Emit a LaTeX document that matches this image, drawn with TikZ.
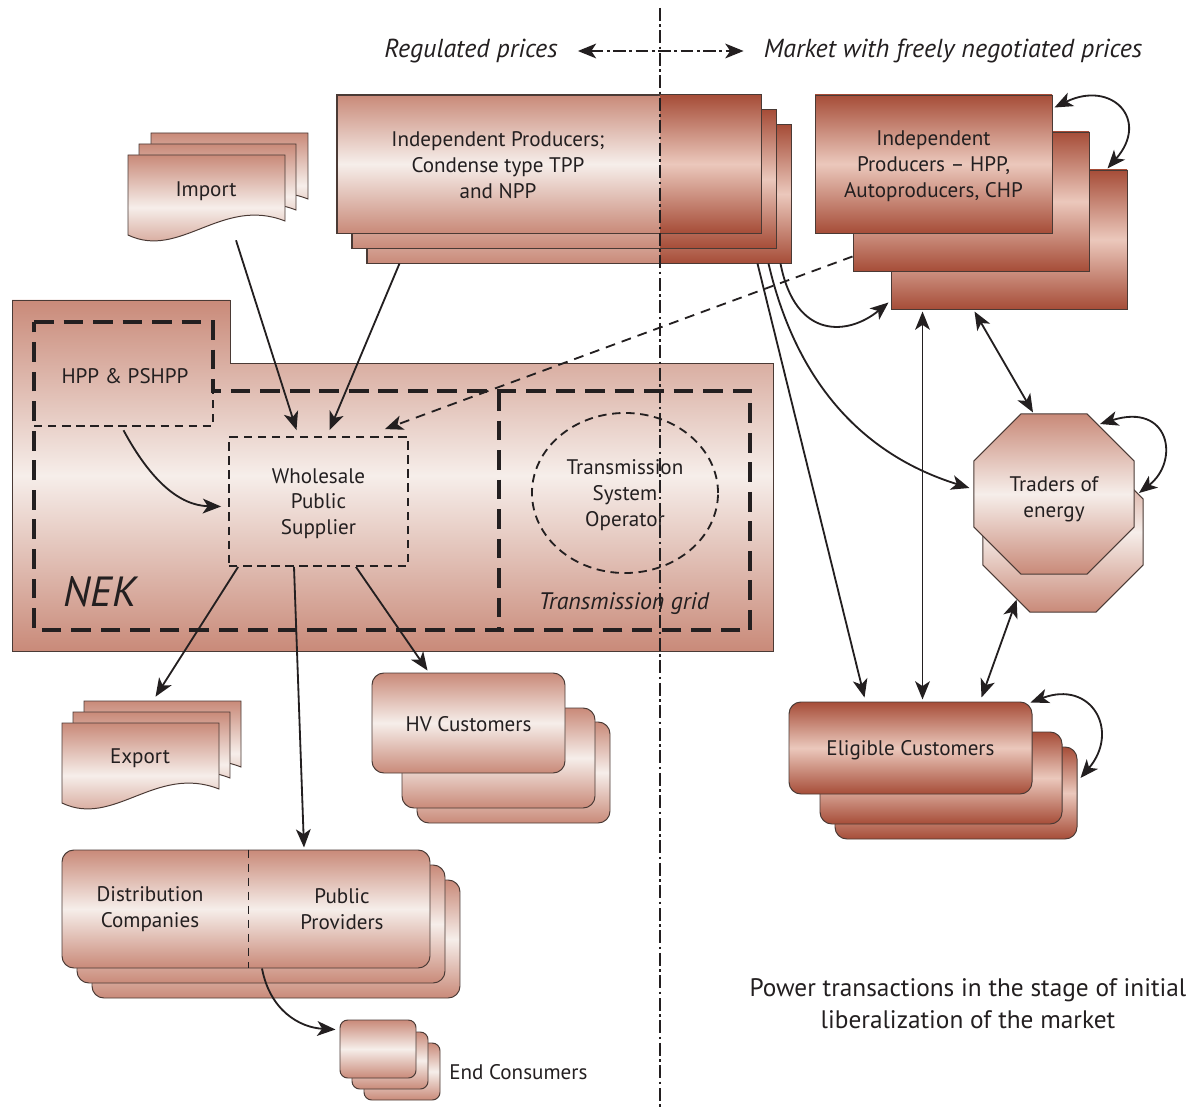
\documentclass[tikz,border=0pt]{standalone}
\usepackage{fontspec}
\setmainfont{PT Sans}
\usepackage{tikz}
\usetikzlibrary{arrows.meta, positioning, fit, calc, shapes.geometric}
\definecolor{nekedge}{HTML}{C98A79}
\definecolor{nekmid}{HTML}{F6EEEA}
\definecolor{mktedge}{HTML}{A64D38}
\definecolor{mktmid}{HTML}{EBC8BC}
\definecolor{boxline}{HTML}{4A3A35}
\definecolor{ink}{HTML}{231F20}

% one sheet of a document stack (top left corner given)
\newcommand{\docpage}[2]{%
  \path[lshade, shift={(#1,#2)}] (0,0) -- (157,0) -- (157,66) .. controls (94,41) and (52,105) .. (0,80) -- cycle;}

\begin{document}
\begin{tikzpicture}[
  x=0.025cm, y=-0.025cm,
  lfill/.style={top color=nekedge, bottom color=nekedge, middle color=nekmid},
  dfill/.style={top color=mktedge, bottom color=mktedge, middle color=mktmid},
  edge/.style={draw=boxline, line width=0.7pt},
  lshade/.style={edge, lfill},
  box/.style={edge, inner sep=0pt},
  lbox/.style={box, lfill},
  dbox/.style={box, dfill},
  txt/.style={text=ink, align=center, inner sep=0pt, font=\fontsize{15}{18.3}\selectfont},
  tip/.tip={Stealth[length=13pt, width=10.5pt, inset=3.5pt]},
  arr/.style={-tip, line width=1.3pt, ink},
  darr/.style={tip-tip, line width=1.3pt, ink},
  thinds/.style={draw=ink, line width=1.3pt, dash pattern=on 6pt off 4pt},
  thickds/.style={draw=ink, line width=3.5pt, dash pattern=on 14pt off 7pt},
  divide/.style={ink, line width=1pt, dash pattern=on 9pt off 2.5pt on 2pt off 2.5pt},
  hdr/.style={text=ink, inner sep=0pt, font=\itshape\fontsize{18.5}{22}\selectfont}
]
\useasboundingbox (0,0) rectangle (1199,1110);

% independent producers (regulated / market part)
\node[lbox, fit={(367,125)(791,263)}] (ip3) {};
\shade[dfill] (660,125) rectangle (791,263);
\draw[edge] (ip3.north west) rectangle (ip3.south east);
\node[lbox, fit={(352,110)(776,248)}] (ip2) {};
\shade[dfill] (660,110) rectangle (776,248);
\draw[edge] (ip2.north west) rectangle (ip2.south east);
\node[lbox, fit={(337,95)(761,233)}] (ip1) {};
\shade[dfill] (660,95) rectangle (761,233);
\draw[edge] (ip1.north west) rectangle (ip1.south east);
\node[txt] (iptext) at (498,165) {Independent Producers;\\Condense type TPP\\and NPP};

\node[dbox, fit={(891,170)(1127,309)}] (rp3) {};
\node[dbox, fit={(853,132)(1089,271)}] (rp2) {};
\node[dbox, fit={(815,95)(1052,233)}] (rp1) {};
\node[txt] (rptext) at ($(rp1.center)+(0,2)$) {Independent\\Producers -- HPP,\\Autoproducers, CHP};

% import
\docpage{151}{133}
\docpage{139}{144}
\docpage{128}{155}
\node[fit={(128,155)(285,230)}, inner sep=0pt] (imp) {};
\node[txt] (imptext) at (206,191) {Import};

% NEK
\path[lshade] (12,300) -- (230,300) -- (230,363) -- (773,363) -- (773,651) -- (12,651) -- cycle;
\draw[thickds] (34,322) -- (213,322) -- (213,391) -- (750,391) -- (750,630) -- (34,630) -- cycle;
\draw[thickds] (499,391) -- (499,630);
\draw[thinds] (34,426) -- (213,426) -- (213,391);
\node[fit={(34,322)(213,426)}, inner sep=0pt] (hpp) {};
\node[txt] (hpptext) at (125,376) {HPP \& PSHPP};
\node[thinds, fit={(229,437)(408,566)}, inner sep=0pt] (wps) {};
\node[txt] (wpstext) at ($(wps.center)+(0,2)$) {Wholesale\\Public\\Supplier};
\node[thinds, ellipse, minimum width=4.65cm, minimum height=4cm, inner sep=0pt] (tso) at (625,493) {};
\node[txt] (tsotext) at (625,495) {Transmission\\System\\Operator};
\node[txt, font=\itshape\fontsize{17}{20}\selectfont] (grid) at (624,604) {Transmission grid};
\node[txt, font=\itshape\fontsize{30}{30}\selectfont] (nek) at (100,592) {NEK};

% traders
\node[lbox, regular polygon, regular polygon sides=8, minimum size=4.33cm] (tr2) at (1063,532) {};
\node[lbox, regular polygon, regular polygon sides=8, minimum size=4.33cm] (tr1) at (1054,494) {};
\node[txt] (trtext) at (1054,499) {Traders of\\energy};

% export
\docpage{84}{701}
\docpage{73}{712}
\docpage{62}{723}
\node[fit={(62,723)(219,791)}, inner sep=0pt] (exp1) {};
\node[txt] (exptext) at (140,758) {Export};

% customers
\node[lbox, rounded corners=8.5pt, fit={(417,722)(610,823)}] (hv3) {};
\node[lbox, rounded corners=8.5pt, fit={(402,708)(595,808)}] (hv2) {};
\node[lbox, rounded corners=8.5pt, fit={(372,673)(565,773)}] (hv1) {};
\node[txt] (hvtext) at ($(hv1.center)+(0,1)$) {HV Customers};

\node[lbox, rounded corners=8.5pt, fit={(92,880)(460,998)}] (dist3) {};
\node[lbox, rounded corners=8.5pt, fit={(77,865)(445,983)}] (dist2) {};
\node[lbox, rounded corners=8.5pt, fit={(62,850)(430,968)}] (dist1) {};
\draw[thinds] ($(dist1.north west)+(187,0)$) -- ($(dist1.south west)+(187,0)$);
\node[txt] (dco) at (150,909) {Distribution\\Companies};
\node[txt] (ppr) at (342,909) {Public\\Providers};

\node[lbox, rounded corners=5.5pt, fit={(364,1043)(440,1100)}] (end3) {};
\node[lbox, rounded corners=5.5pt, fit={(352,1032)(428,1089)}] (end2) {};
\node[lbox, rounded corners=5.5pt, fit={(340,1020)(416,1078)}] (end1) {};
\node[txt, anchor=west] (endl) at (449,1072) {End Consumers};

\node[dbox, rounded corners=8.5pt, fit={(835,747)(1077,839)}] (el3) {};
\node[dbox, rounded corners=8.5pt, fit={(820,732)(1062,824)}] (el2) {};
\node[dbox, rounded corners=8.5pt, fit={(789,702)(1032,794)}] (el1) {};
\node[txt] (eltext) at ($(el1.center)+(0,2)$) {Eligible Customers};

% flows
\draw[arr] ($(imp.south)+(29.5,10)$) -- ($(wps.north)+(-22,-6)$);
\draw[arr] ($(ip3.south west)+(33,0)$) -- ($(wps.north)+(11,-6)$);
\draw[arr, dash pattern=on 7pt off 5pt] ($(rp2.south west)+(0,-15)$) -- ($(wps.north east)+(-24,-7)$);
\draw[arr] ($(hpp.south)+(0,4)$) .. controls +(27,50) and +(-42,-1) .. ($(wps.west)+(-7,5)$);
\draw[arr] ($(wps.south west)+(10,0)$) -- ($(exp1.north)+(15,-26)$);
\draw[arr] ($(wps.south)+(-24.5,0)$) -- ($(dist1.north)+(58,-2)$);
\draw[arr] ($(wps.south east)+(-53,0)$) -- ($(hv1.north west)+(56,-2)$);
\draw[arr] ($(dist1.south)+(16,0)$) .. controls +(8,42) and +(-36,-2) .. ($(end1.north west)+(-4,10)$);

\draw[arr] ($(ip3.south east)+(-11,0)$) .. controls +(15,77) and +(-40,33) .. ($(rp3.south west)+(-2,-7)$);
\draw[arr] ($(ip3.south east)+(-23,0)$) .. controls +(32,137) and +(-90,-28) .. ($(tr1.west)+(-4,-6)$);
\draw[arr] ($(ip3.south east)+(-34,0)$) -- ($(el1.north west)+(76,-4)$);
\draw[darr] ($(rp3.south west)+(32,2)$) -- ($(el1.north west)+(134,-2)$);
\draw[darr] ($(rp3.south west)+(84,2)$) -- ($(tr1.north)+(-21,-1)$);
\draw[darr] ($(tr2.225)+(10.6,10.6)$) -- ($(el1.north west)+(193,-4)$);

\draw[darr] ($(rp1.north east)+(2,13)$) .. controls +(57,-28) and +(43,-49) .. ($(rp3.north east)+(-20,-1)$);
\draw[darr] ($(tr1.center)+(46,-70)$) .. controls +(70,-22) and +(41,-32) .. ($(tr2.center)+(76,-39)$);
\draw[darr] ($(el1.north east)+(-2,1)$) .. controls +(61,-23) and +(40,-47) .. ($(el3.east)+(3,-15)$);

% regulated | market
\draw[divide] (660,8) -- (660,1110);
\node[hdr] (reg) at (471,51) {Regulated prices};
\node[hdr] (mkt) at (953,51) {Market with freely negotiated prices};
\draw[divide, line width=1.3pt, tip-tip] ($(reg.east)+(20,0)$) -- ($(mkt.west)+(-20,0)$);

\node[txt, font=\fontsize{18}{22.7}\selectfont] (capt) at (968,1004) {Power transactions in the stage of initial\\liberalization of the market};
\end{tikzpicture}
\end{document}
